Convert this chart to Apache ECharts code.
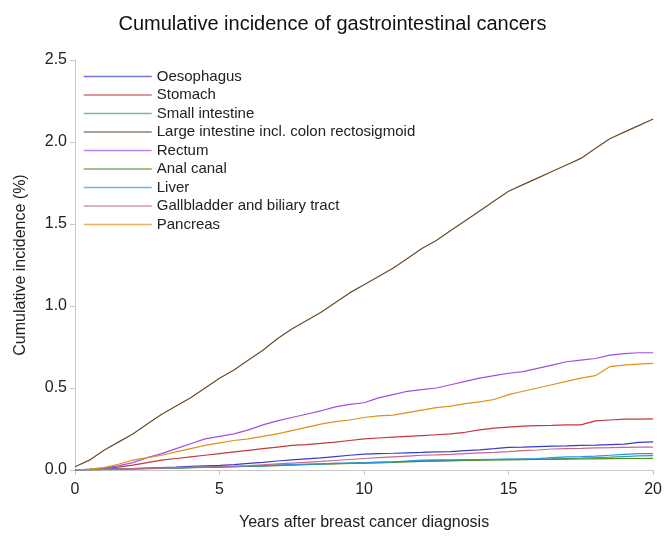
<!DOCTYPE html>
<html>
<head>
<meta charset="utf-8">
<script src="https://cdn.jsdelivr.net/npm/echarts@6/dist/echarts.min.js"></script>
<style>
  html, body { margin: 0; padding: 0; background: #fff; }
  #main { width: 665px; height: 536px; }
</style>
</head>
<body>
<div id="main"></div>
<script>
// years after diagnosis, half-year steps
const years = [0, 0.5, 1, 1.5, 2, 2.5, 3, 3.5, 4, 4.5, 5, 5.5, 6, 6.5, 7, 7.5, 8, 8.5, 9, 9.5, 10,
  10.5, 11, 11.5, 12, 12.5, 13, 13.5, 14, 14.5, 15, 15.5, 16, 16.5, 17, 17.5, 18, 18.5, 19, 19.5, 20];

const seriesNames = ['Oesophagus', 'Stomach', 'Small intestine', 'Large intestine incl. colon rectosigmoid',
  'Rectum', 'Anal canal', 'Liver', 'Gallbladder and biliary tract', 'Pancreas'];
const colors = ['#3b3bd0', '#c2393f', '#3f9a9a', '#6a4a2c', '#a24fe0', '#4f8a1e', '#2b95e0', '#c06a8e', '#e0901c'];

const oesophagus = [0, 0.003, 0.005, 0.007, 0.009, 0.012, 0.015, 0.018, 0.022, 0.025, 0.028, 0.033, 0.04, 0.047, 0.055,
  0.062, 0.068, 0.074, 0.082, 0.09, 0.097, 0.1, 0.102, 0.105, 0.107, 0.11, 0.112, 0.118, 0.123, 0.13, 0.138,
  0.14, 0.143, 0.145, 0.147, 0.15, 0.152, 0.155, 0.158, 0.168, 0.172];
const stomach = [0, 0.004, 0.01, 0.018, 0.03, 0.045, 0.06, 0.07, 0.08, 0.09, 0.1, 0.11, 0.12, 0.13, 0.14,
  0.15, 0.155, 0.162, 0.17, 0.18, 0.19, 0.195, 0.2, 0.205, 0.21, 0.215, 0.22, 0.23, 0.245, 0.255, 0.262,
  0.268, 0.27, 0.272, 0.275, 0.275, 0.3, 0.305, 0.31, 0.31, 0.312];
const smallIntestine = [0, 0.001, 0.003, 0.005, 0.007, 0.009, 0.011, 0.013, 0.015, 0.017, 0.019, 0.021, 0.023, 0.026, 0.03,
  0.032, 0.035, 0.038, 0.04, 0.042, 0.045, 0.048, 0.05, 0.053, 0.055, 0.057, 0.058, 0.06, 0.062, 0.063, 0.065,
  0.066, 0.067, 0.068, 0.07, 0.072, 0.075, 0.078, 0.082, 0.086, 0.088];
const largeIntestine = [0.02, 0.06, 0.12, 0.17, 0.22, 0.28, 0.34, 0.39, 0.44, 0.5, 0.56, 0.61, 0.67, 0.73, 0.8,
  0.86, 0.91, 0.96, 1.02, 1.08, 1.13, 1.18, 1.23, 1.29, 1.35, 1.4, 1.46, 1.52, 1.58, 1.64, 1.7,
  1.74, 1.78, 1.82, 1.86, 1.9, 1.96, 2.02, 2.06, 2.1, 2.14];
const rectum = [0, 0.005, 0.012, 0.025, 0.045, 0.075, 0.1, 0.13, 0.16, 0.19, 0.205, 0.22, 0.245, 0.275, 0.3,
  0.32, 0.34, 0.36, 0.385, 0.4, 0.41, 0.44, 0.46, 0.48, 0.49, 0.5, 0.52, 0.54, 0.56, 0.575, 0.59,
  0.6, 0.62, 0.64, 0.66, 0.67, 0.68, 0.7, 0.71, 0.715, 0.715];
const analCanal = [0, 0.001, 0.002, 0.004, 0.006, 0.008, 0.01, 0.012, 0.014, 0.016, 0.018, 0.02, 0.022, 0.024, 0.027,
  0.03, 0.032, 0.035, 0.037, 0.04, 0.042, 0.044, 0.047, 0.05, 0.052, 0.054, 0.056, 0.058, 0.06, 0.061, 0.062,
  0.063, 0.064, 0.065, 0.066, 0.067, 0.068, 0.069, 0.07, 0.07, 0.071];
const liver = [0, 0.002, 0.004, 0.006, 0.008, 0.01, 0.012, 0.014, 0.016, 0.018, 0.02, 0.022, 0.024, 0.027, 0.03,
  0.033, 0.035, 0.037, 0.04, 0.042, 0.044, 0.047, 0.05, 0.055, 0.06, 0.062, 0.062, 0.063, 0.064, 0.065, 0.066,
  0.067, 0.07, 0.075, 0.08, 0.082, 0.085, 0.09, 0.095, 0.1, 0.1];
const gallbladder = [0, 0.002, 0.004, 0.006, 0.008, 0.01, 0.012, 0.014, 0.016, 0.018, 0.02, 0.023, 0.027, 0.032, 0.037,
  0.042, 0.047, 0.052, 0.058, 0.064, 0.07, 0.075, 0.08, 0.085, 0.09, 0.092, 0.095, 0.1, 0.105, 0.108, 0.112,
  0.118, 0.122, 0.128, 0.13, 0.132, 0.135, 0.136, 0.138, 0.14, 0.14];
const pancreas = [0, 0.005, 0.015, 0.035, 0.06, 0.075, 0.09, 0.11, 0.13, 0.15, 0.165, 0.18, 0.19, 0.205, 0.22,
  0.24, 0.26, 0.28, 0.295, 0.305, 0.32, 0.33, 0.335, 0.35, 0.365, 0.38, 0.39, 0.405, 0.415, 0.43, 0.46,
  0.48, 0.5, 0.52, 0.54, 0.56, 0.575, 0.63, 0.64, 0.645, 0.65];

const seriesValues = [oesophagus, stomach, smallIntestine, largeIntestine, rectum, analCanal, liver, gallbladder, pancreas];

const yTicks = [0, 0.5, 1.0, 1.5, 2.0, 2.5];
const xTicks = [0, 5, 10, 15, 20];

const chart = echarts.init(document.getElementById('main'));

const font = 'Liberation Sans, Arial, sans-serif';
const axisGrey = '#c8c8c8';

const option = {
  backgroundColor: '#fff',
  animation: false,
  color: colors,
  title: {
    text: 'Cumulative incidence of gastrointestinal cancers',
    left: 'center',
    top: 9,
    textStyle: { fontFamily: font, fontSize: 20, fontWeight: 'normal', color: '#111' }
  },
  legend: {
    orient: 'vertical',
    left: 83,
    top: 69,
    padding: 0,
    itemWidth: 68,
    itemHeight: 14,
    itemGap: 3.5,
    itemStyle: { opacity: 0 },
    data: seriesNames.map((name, i) => ({
      name: name,
      lineStyle: { color: colors[i], width: 1.5, opacity: 0.7 }
    })),
    textStyle: { fontFamily: font, fontSize: 15, color: '#222', lineHeight: 14 }
  },
  grid: { left: 75, right: 8, top: 60, bottom: 62 },
  xAxis: {
    type: 'value',
    min: xTicks[0],
    max: xTicks[xTicks.length - 1],
    interval: 5,
    name: 'Years after breast cancer diagnosis',
    nameLocation: 'middle',
    nameGap: 45,
    nameTextStyle: { fontFamily: font, fontSize: 16, color: '#222' },
    axisLine: { lineStyle: { color: axisGrey } },
    axisTick: { length: 5, lineStyle: { color: axisGrey } },
    axisLabel: { fontFamily: font, fontSize: 16, color: '#222', margin: 12 },
    splitLine: { show: false }
  },
  yAxis: {
    type: 'value',
    min: yTicks[0],
    max: yTicks[yTicks.length - 1],
    interval: 0.5,
    name: 'Cumulative incidence (%)',
    nameLocation: 'middle',
    nameGap: 46,
    nameTextStyle: { fontFamily: font, fontSize: 16, color: '#222' },
    axisLine: { show: true, lineStyle: { color: axisGrey } },
    axisTick: { show: true, length: 5, lineStyle: { color: axisGrey } },
    axisLabel: { fontFamily: font, fontSize: 16, color: '#222', margin: 8,
      formatter: v => v.toFixed(1) },
    splitLine: { show: false }
  },
  series: seriesNames.map((name, i) => ({
    name: name,
    type: 'line',
    symbol: 'none',
    lineStyle: { width: 1.2 },
    data: years.map((t, k) => [t, seriesValues[i][k]])
  }))
};

chart.setOption(option);
</script>
</body>
</html>
